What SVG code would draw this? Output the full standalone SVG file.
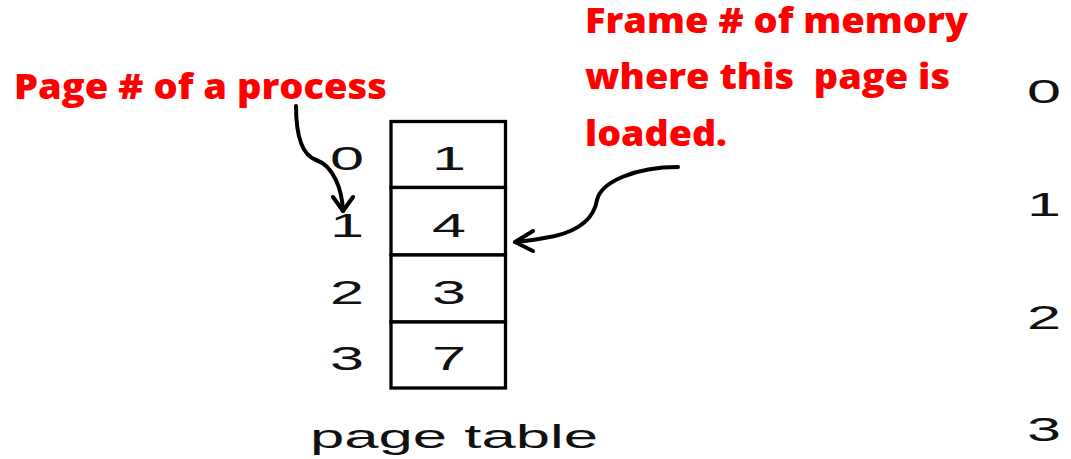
<svg xmlns="http://www.w3.org/2000/svg" width="1071" height="459" viewBox="0 0 1071 459">
<style>
.red{font-family:"Open Sans","Liberation Sans",sans-serif;font-weight:800;font-size:35px;fill:#ff0000;white-space:pre}
.num{font-family:"Liberation Sans",Arial,sans-serif;font-size:34px;fill:#111}
.cell{fill:#fff;stroke:#000;stroke-width:3.3}
.conn{fill:none;stroke:#000;stroke-width:4;stroke-linecap:round;stroke-linejoin:round}
</style>
<rect width="1071" height="459" fill="#fff"/>
<g id="label-page">
<text class="red" x="14" y="99" textLength="373" lengthAdjust="spacingAndGlyphs">Page # of a process</text>
</g>
<g id="label-frame">
<text class="red" x="585" y="33" textLength="383" lengthAdjust="spacingAndGlyphs">Frame # of memory</text>
<text class="red" x="585" y="89" textLength="365" lengthAdjust="spacingAndGlyphs">where this  page is</text>
<text class="red" x="585" y="146" textLength="142" lengthAdjust="spacingAndGlyphs">loaded.</text>
</g>
<g id="page-table">
<rect class="cell" x="391" y="121.5" width="114.5" height="66"/>
<rect class="cell" x="391" y="187.5" width="114.5" height="67.5"/>
<rect class="cell" x="391" y="255" width="114.5" height="67"/>
<rect class="cell" x="391" y="322" width="114.5" height="66"/>
<text class="num" x="432" y="170" textLength="34" lengthAdjust="spacingAndGlyphs">1</text>
<text class="num" x="432" y="237" textLength="34" lengthAdjust="spacingAndGlyphs">4</text>
<text class="num" x="432" y="303.5" textLength="34" lengthAdjust="spacingAndGlyphs">3</text>
<text class="num" x="432" y="370" textLength="34" lengthAdjust="spacingAndGlyphs">7</text>
<text class="num" x="310" y="448" textLength="288" lengthAdjust="spacingAndGlyphs">page table</text>
</g>
<g id="page-numbers">
<text class="num" x="330" y="170" textLength="34" lengthAdjust="spacingAndGlyphs">0</text>
<text class="num" x="330" y="237" textLength="34" lengthAdjust="spacingAndGlyphs">1</text>
<text class="num" x="330" y="303.5" textLength="34" lengthAdjust="spacingAndGlyphs">2</text>
<text class="num" x="330" y="370" textLength="34" lengthAdjust="spacingAndGlyphs">3</text>
</g>
<g id="frame-numbers">
<text class="num" x="1027" y="103" textLength="34" lengthAdjust="spacingAndGlyphs">0</text>
<text class="num" x="1027" y="216" textLength="34" lengthAdjust="spacingAndGlyphs">1</text>
<text class="num" x="1027" y="329" textLength="34" lengthAdjust="spacingAndGlyphs">2</text>
<text class="num" x="1027" y="441" textLength="34" lengthAdjust="spacingAndGlyphs">3</text>
</g>
<g id="connectors">
<path class="conn" d="M296,106 C296,136 302,155 316,160 C334,166 342,190 343,211"/>
<path class="conn" d="M333,197 L343,211 L353,197"/>
<path class="conn" d="M678,167 C635,167 601,182 597,200 C594,218 580,230 555,236 C540,239 526,241 515,242"/>
<path class="conn" d="M533,231 L515,242 L533,251"/>
</g>
</svg>
